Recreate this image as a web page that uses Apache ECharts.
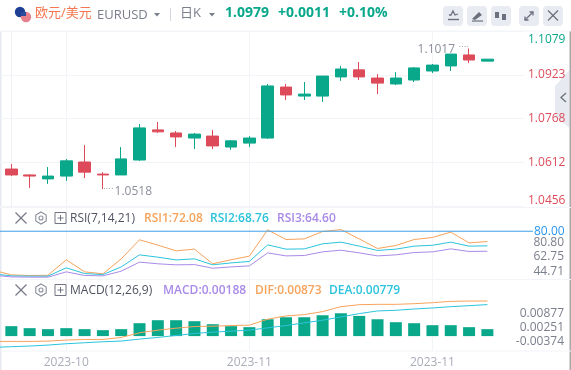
<!DOCTYPE html>
<html><head><meta charset="utf-8">
<style>html,body{margin:0;padding:0;background:#fff}#c{width:571px;height:370px}</style>
<script src="https://cdn.jsdelivr.net/npm/echarts@6/dist/echarts.min.js"></script>
</head><body><div id="c"></div>
<script>
// ---- data ----
const opens  = [1.0589,1.0568,1.0554,1.0564,1.0614,1.0571,1.0568,1.0621,1.0728,1.0717,1.0699,1.0706,1.0667,1.0681,1.0699,1.0880,1.0848,1.0848,1.0916,1.0941,1.0912,1.0891,1.0905,1.0937,1.0955,1.0994,1.0972];
const closes = [1.0568,1.0564,1.0564,1.0618,1.0578,1.0568,1.0625,1.0735,1.0721,1.0703,1.0713,1.0671,1.0689,1.0699,1.0884,1.0852,1.0855,1.0919,1.0944,1.0916,1.0894,1.0912,1.0948,1.0958,1.0997,1.0976,1.0979];
const lows   = [1.0564,1.0522,1.0536,1.0547,1.0557,1.0518,1.0568,1.0618,1.0717,1.0667,1.0660,1.0660,1.0657,1.0667,1.0696,1.0834,1.0834,1.0827,1.0902,1.0905,1.0855,1.0887,1.0898,1.0930,1.0937,1.0965,1.0972];
const highs  = [1.0607,1.0571,1.0596,1.0625,1.0674,1.0578,1.0667,1.0749,1.0756,1.0724,1.0717,1.0728,1.0692,1.0706,1.0891,1.0891,1.0898,1.0919,1.0955,1.0969,1.0926,1.0933,1.0951,1.0962,1.0997,1.1017,1.0979];
const rsi1 = [49.98,46.38,45.87,46.1,58.0,48.7,47.2,58.7,73.4,69.3,64.9,66.2,54.9,58.0,60.8,81.1,73.6,74.1,79.8,81.3,74.1,66.7,69.0,73.6,75.2,79.3,71.0,72.08];
const rsi2 = [47.2,45.6,45.4,45.4,51.8,47.4,46.6,52.5,61.8,60.0,57.9,58.7,54.1,55.6,56.7,69.5,66.2,66.4,70.3,71.6,68.5,65.2,66.2,68.5,69.2,71.6,68.5,68.76];
const rsi3 = [46.1,44.8,44.6,44.6,48.7,45.9,45.6,49.2,56.2,54.9,54.1,54.3,51.5,52.5,53.3,63.3,61.0,61.3,64.1,65.4,63.3,61.0,61.8,63.6,64.1,66.4,64.4,64.6];
const macdBars = [.00269,.00215,.00188,.00215,.00188,.00161,.00188,.00349,.0043,.0043,.00403,.00322,.00269,.00242,.00456,.0051,.0051,.00564,.00618,.00546,.00456,.00376,.00349,.00295,.00295,.00242,.00188];
const dif = [-.00189,-.00189,-.00189,-.0018,-.00154,-.00137,-.00137,-.00084,.00037,.00107,.00159,.00203,.00211,.00229,.00238,.00394,.00481,.00516,.00594,.00725,.00777,.00786,.00786,.00803,.00829,.00864,.00873,.00873];
const dea = [-.00346,-.00328,-.00311,-.00285,-.0025,-.00224,-.00198,-.0018,-.00128,-.00084,-.00032,.0002,.00055,.00081,.00107,.00168,.00229,.00299,.00368,.00455,.00542,.00612,.00629,.00664,.0069,.00725,.00751,.00779];
const xTickIndex = [3,13,23];
const xTickLabels = ['2023-10','2023-11','2023-11'];
const priceTicks = [1.0456,1.0612,1.0768,1.0923,1.1079];
const rsiTicks = [44.71,62.75,80.80];
const macdTicks = [-0.00374,0.00251,0.00877];
const rsiLevel = 80;

// ---- style ----
const GREEN='#0aa88b',RED='#dd4b5a',GRID='#f3f4f8',ORANGE='#f7a35c',CYAN='#2cc4dc',PURPLE='#a98be8';
const FONT='"Open Sans","Noto Sans CJK SC",sans-serif', GREY='#7b7f8c';
const W=524, FULL=571;
const xBase={type:'value',min:-0.62,max:28,axisLine:{show:false},
  axisTick:{show:false,customValues:xTickIndex},
  axisLabel:{show:false,customValues:xTickIndex},
  splitLine:{show:true,lineStyle:{color:GRID,width:1}}};
const hidY=(gi,min,max)=>({type:'value',gridIndex:gi,min,max,position:'right',show:false,splitLine:{show:false},axisLine:{show:false}});
const idx=a=>a.map((v,i)=>[i,v]);
const idxPrev=a=>a.map((v,i)=>[i-1,v]);
const lineS=(name,data,color,xi,yi)=>({type:'line',name,data,xAxisIndex:xi,yAxisIndex:yi,showSymbol:false,symbol:'none',
  lineStyle:{color,width:1},silent:true,z:3});

// ---- header / chrome (text and small icons) ----
const T=(x,y,text,fill,size,weight,align)=>({type:'text',x,y,silent:true,z:20,style:{text,fill,font:`${weight||'normal'} ${size||12}px ${FONT}`,textVerticalAlign:'middle',textAlign:align||'left'}});
const L=(x1,y1,x2,y2,stroke,w)=>({type:'line',silent:true,z:1,shape:{x1,y1,x2,y2},style:{stroke,lineWidth:w||1}});
const P=(pts,stroke,w)=>({type:'polyline',silent:true,z:21,shape:{points:pts},style:{stroke,lineWidth:w||1.3,fill:'none'}});
const Btn=x=>({type:'rect',silent:true,z:20,shape:{x,y:6,width:20,height:20,r:4},style:{fill:'#e9ebf2'}});
const IC='#6c707e';
const XI=(x,y,s,c)=>[P([[x,y],[x+s,y+s]],c),P([[x+s,y],[x,y+s]],c)];
const Caret=(x,y)=>({type:'polygon',silent:true,z:20,shape:{points:[[x,y],[x+6,y],[x+3,y+3.5]]},style:{fill:'#7b7f8c'}});
const Gear=(cx,cy)=>[{type:'polygon',silent:true,z:20,shape:{points:[[cx,cy-6],[cx+5.2,cy-3],[cx+5.2,cy+3],[cx,cy+6],[cx-5.2,cy+3],[cx-5.2,cy-3]]},style:{stroke:'#8a8e9a',fill:'none',lineWidth:1.1}},
  {type:'circle',silent:true,z:20,shape:{cx,cy,r:2},style:{stroke:'#8a8e9a',fill:'none',lineWidth:1.1}}];
const PlusBox=(x,y)=>[{type:'rect',silent:true,z:20,shape:{x,y,width:11,height:11},style:{stroke:'#70747f',fill:'none',lineWidth:1}},
  P([[x+2.5,y+5.5],[x+8.5,y+5.5]],'#70747f',1),P([[x+5.5,y+2.5],[x+5.5,y+8.5]],'#70747f',1)];
const PaneHead=y=>[...XI(15.5,y-5.5,11,'#777b88'),...Gear(41,y),...PlusBox(55,y-5.5)];

const graphic=[
  {type:'rect',silent:true,z:0,shape:{x:0,y:31,width:1.5,height:339},style:{fill:'#e6e9f2'}},
  L(0,31,FULL,31,GRID),L(0,207.5,FULL,207.5,GRID),L(0,279.5,FULL,279.5,GRID),L(0,351,FULL,351,GRID),
  {type:'rect',silent:true,z:0,shape:{x:569.5,y:31,width:1.5,height:339},style:{fill:'#a9a9a9'}},
  // flags
  {type:'circle',silent:true,z:20,shape:{cx:20,cy:12,r:5.2},style:{fill:'#1f3f95'}},
  {type:'circle',silent:true,z:21,shape:{cx:26,cy:17,r:5.2},style:{fill:'#e8808c'}},
  {type:'rect',silent:true,z:22,shape:{x:21,y:12,width:5,height:4},style:{fill:'#2b4a9b'}},
  L(22,19,31,19,'#fff'),L(22,16.5,31,16.5,'#fff'),
  T(35,13.5,'欧元/美元','#f5764f',13),T(97,15,'EURUSD',GREY,13),Caret(154,13),
  L(170.5,8,170.5,21,'#d5d8e0'),T(180,13,'日K',GREY,13),Caret(209,13),
  T(225,13.5,'1.0979',GREEN,14,'bold'),T(278,13.5,'+0.0011',GREEN,14,'bold'),T(339,13.5,'+0.10%',GREEN,14,'bold'),
  Btn(443),Btn(467),Btn(491),Btn(519),Btn(543),
  P([[449,15],[451,15],[453,11],[455,15],[458,14]],IC),P([[448,19.5],[459,19.5]],IC,1.4),
  {type:'polygon',silent:true,z:21,shape:{points:[[472,19],[479,12],[482,15],[475,20]]},style:{fill:IC}},P([[472,21],[483,21]],IC,1.2),
  L(497,10,497,21,IC),{type:'rect',silent:true,z:21,shape:{x:495,y:12,width:4,height:6},style:{fill:IC}},
  L(504,12,504,23,IC),{type:'rect',silent:true,z:21,shape:{x:502,y:14,width:4,height:6},style:{fill:IC}},
  P([[525,20],[533,12]],IC),P([[529.5,12],[533,12],[533,15.5]],IC),P([[525,16.5],[525,20],[528.5,20]],IC),
  ...XI(548,10.5,10,IC),
  // collapse tab
  {type:'polygon',silent:true,z:-1,shape:{points:[[569.5,70],[555,86],[555,116],[569.5,128]]},style:{fill:'#e8eaf1'}},
  P([[566,93],[561,97.5],[566,102]],'#6f7482',1.4),
  // RSI head
  ...PaneHead(218),
  T(70,219,'RSI(7,14,21)','#4f5360',12),
  T(144,219,'RSI1:72.08',ORANGE,12,'600'),T(210,219,'RSI2:68.76',CYAN,12,'600'),T(277,219,'RSI3:64.60',PURPLE,12,'600'),
  // MACD head
  ...PaneHead(290),
  T(70,290.5,'MACD(12,26,9)','#4f5360',12),
  T(163,290.5,'MACD:0.00188',PURPLE,12,'600'),T(255,290.5,'DIF:0.00873',ORANGE,12,'600'),T(329,290.5,'DEA:0.00779',CYAN,12,'600')
];

const rows=opens.map((o,i)=>[i,o,closes[i],lows[i],highs[i]]);
const hiIdx=highs.indexOf(Math.max(...highs)), loIdx=lows.indexOf(Math.min(...lows));

const option={
  animation:false,backgroundColor:'#fff',graphic,
  grid:[
    {left:0,width:W,top:31,height:175.5},
    {left:0,width:W,top:207.5,height:72},
    {left:0,width:W,top:279.5,height:71.5},
    {left:0,width:533,top:207.5,height:72}
  ],
  xAxis:[
    {...xBase,gridIndex:0},
    {...xBase,gridIndex:1},
    {...xBase,gridIndex:2,axisLabel:{show:true,customValues:xTickIndex,color:'#a9adb8',fontSize:12,fontFamily:FONT,margin:6,
      formatter:v=>xTickLabels[xTickIndex.indexOf(v)]}},
    {type:'value',gridIndex:3,min:0,max:1,show:false}
  ],
  yAxis:[
    {type:'value',gridIndex:0,min:1.0456,max:1.1079,position:'right',
      axisLine:{show:true,lineStyle:{color:'#eef0f4'}},axisTick:{show:false,customValues:priceTicks},
      splitLine:{show:true,lineStyle:{color:GRID}},
      axisLabel:{customValues:priceTicks,margin:4,fontSize:12,fontFamily:FONT,showMinLabel:true,showMaxLabel:true,padding:[3,0,0,0],
        verticalAlignMinLabel:'bottom',verticalAlignMaxLabel:'top',
        color:v=>(+v===priceTicks[priceTicks.length-1]?GREEN:RED),formatter:v=>v.toFixed(4)}},
    hidY(1,42.8,98.3),
    {type:'value',gridIndex:1,min:34.4,max:124,position:'right',axisLine:{show:false},axisTick:{show:false,customValues:rsiTicks},splitLine:{show:false},
      axisLabel:{customValues:rsiTicks,align:'right',margin:40,fontSize:12,fontFamily:FONT,color:GREY,formatter:v=>v.toFixed(2)}},
    hidY(2,-.00403,.01531),
    hidY(2,-.00441,.01439),
    {type:'value',gridIndex:2,min:-.00762,max:.02342,position:'right',axisLine:{show:false},axisTick:{show:false,customValues:macdTicks},splitLine:{show:false},
      axisLabel:{customValues:macdTicks,align:'right',margin:40,fontSize:12,fontFamily:FONT,color:GREY,formatter:v=>v.toFixed(5)}},
    hidY(3,42.8,98.3)
  ],
  series:[
    {type:'candlestick',name:'EURUSD',xAxisIndex:0,yAxisIndex:0,data:rows,encode:{x:0,y:[1,2,3,4]},barWidth:12,z:3,silent:true,
      itemStyle:{color:GREEN,color0:RED,borderColor:GREEN,borderColor0:RED,borderWidth:1},
      markPoint:{silent:true,symbol:'circle',symbolSize:0,animation:false,
        data:[
          {coord:[hiIdx,highs[hiIdx]],label:{show:true,position:'left',distance:0,offset:[0,1],
            formatter:'{t|'+highs[hiIdx].toFixed(4)+'} {d|····}',rich:{t:{fontSize:12,fontFamily:FONT,color:'#8c909c'},d:{fontSize:8,color:'#8c909c',padding:[0,0,6,0]}}}},
          {coord:[loIdx,lows[loIdx]],label:{show:true,position:'right',distance:0,offset:[0,3],
            formatter:'{d|····}{t|'+lows[loIdx].toFixed(4)+'}',rich:{t:{fontSize:12,fontFamily:FONT,color:'#8c909c'},d:{fontSize:8,color:'#8c909c',padding:[0,1,6,0]}}}}
        ]}},
    lineS('RSI1',idxPrev(rsi1),ORANGE,1,1),
    lineS('RSI2',idxPrev(rsi2),CYAN,1,1),
    lineS('RSI3',idxPrev(rsi3),PURPLE,1,1),
    {type:'bar',name:'MACD',data:idx(macdBars),xAxisIndex:2,yAxisIndex:3,barWidth:12,itemStyle:{color:GREEN},silent:true,z:2},
    lineS('DIF',idxPrev(dif),ORANGE,2,4),
    lineS('DEA',idxPrev(dea),CYAN,2,4),
    {type:'line',name:'RSI level',data:[[0,rsiLevel],[1,rsiLevel]],xAxisIndex:3,yAxisIndex:6,showSymbol:false,symbol:'none',silent:true,z:4,
      lineStyle:{color:'#3e9ee8',width:1},
      endLabel:{show:true,distance:1,color:'#2a96f0',fontSize:12,fontFamily:FONT,formatter:()=>rsiLevel.toFixed(2)}}
  ]
};
const chart=echarts.init(document.getElementById('c'),null,{renderer:'canvas'});
chart.setOption(option);
</script></body></html>
